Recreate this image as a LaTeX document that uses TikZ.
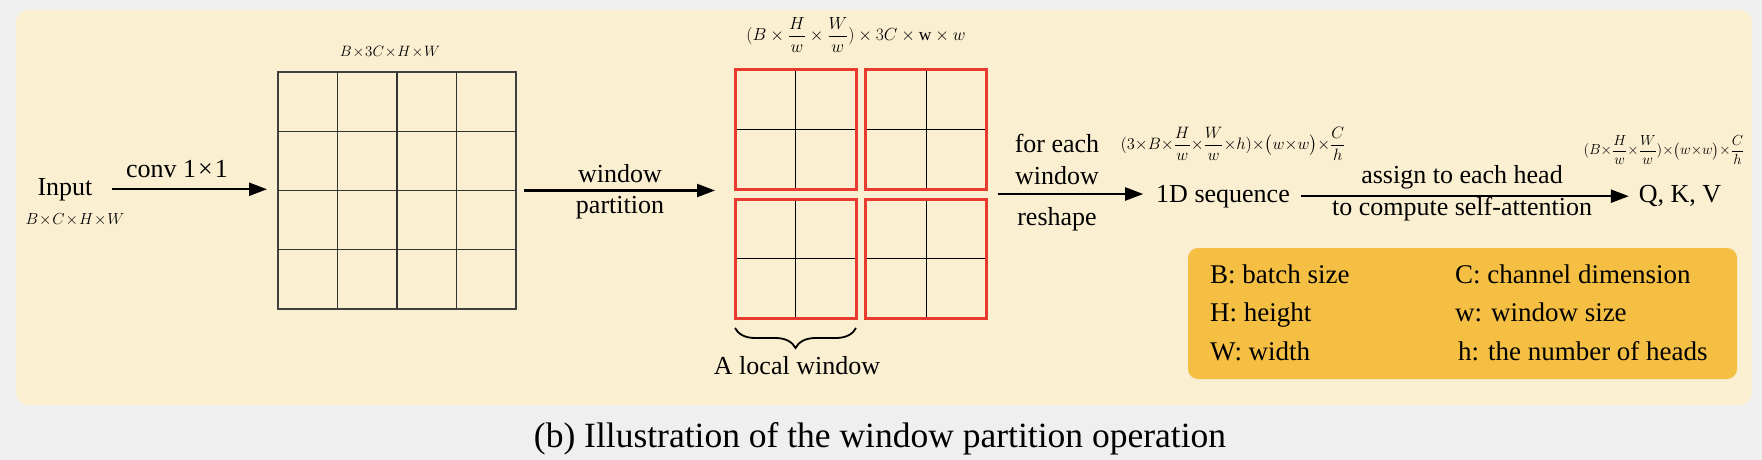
\RequirePackage{fix-cm}
\documentclass[tikz,border=0pt]{standalone}
\usepackage{amsmath}
\usepackage{fontspec}
\setmainfont{Liberation Serif}
\usetikzlibrary{arrows.meta,calc,decorations.pathreplacing}
\definecolor{bggray}{HTML}{EFEFEF}
\definecolor{cream}{HTML}{FBEFD1}
\definecolor{legendc}{HTML}{F4BF42}
\definecolor{winred}{HTML}{E63B2E}
\begin{document}
\begin{tikzpicture}[x=1pt,y=-1pt,
  lbl/.style={inner sep=0pt, outer sep=0pt, anchor=base, font=\fontsize{26}{32}\selectfont},
  leg/.style={inner sep=0pt, outer sep=0pt, anchor=base west, font=\fontsize{27}{32}\selectfont},
  mth/.style={inner sep=0pt, outer sep=0pt},
  arr/.style={line width=2.2pt, -{Triangle[length=18pt,width=13pt]}},
  gridbox/.style={draw=black!75, line width=1.2pt, inner sep=0pt, outer sep=0pt, minimum width=238pt, minimum height=237pt},
  gline/.style={draw=black!80, line width=1.2pt},
  winbox/.style={draw=winred, line width=3pt, inner sep=0pt, outer sep=0pt, minimum width=121pt, minimum height=119pt},
  wline/.style={draw=black, line width=1pt, shorten <=1.5pt, shorten >=1.5pt},
  bracestyle/.style={draw=black, line width=1.8pt, decorate, decoration={brace, amplitude=20pt}}
]
\useasboundingbox (0,0) rectangle (1762,460);
\fill[bggray] (0,0) rectangle (1762,460);
\fill[cream, rounded corners=12pt] (16,10) rectangle (1752,405);

% input
\node[lbl] (input) at (65,195) {Input};
\node[mth] (f0) at (75,220) {\fontsize{16}{18}\selectfont\medmuskip=1mu $B\times C\times H\times W$};
\node[lbl] (conv) at (177,177) {conv 1\kern2pt×\kern2pt1};

% big grid
\node[gridbox] (grid) at (397,190.5) {};
\foreach \i in {1,2,3} {
  \draw[gline] ($(grid.north west)!\i/4!(grid.north east)$) -- ($(grid.south west)!\i/4!(grid.south east)$);
  \draw[gline] ($(grid.north west)!\i/4!(grid.south west)$) -- ($(grid.north east)!\i/4!(grid.south east)$);
}
\node[mth] (f1) at (390,52) {\fontsize{15}{17}\selectfont\medmuskip=1mu $B\times 3C\times H\times W$};

% window partition arrow labels
\node[lbl] (wp1) at (620,182) {window};
\node[lbl] (wp2) at (620,213) {partition};

% windows
\node[winbox] (w1) at (795.5,129.5) {};
\node[winbox] (w2) at (926,129.5) {};
\node[winbox] (w3) at (795.5,258.5) {};
\node[winbox] (w4) at (926,258.5) {};
\foreach \w in {w1,w2,w3,w4} {
  \draw[wline] (\w.north) -- (\w.south);
  \draw[wline] (\w.west) -- (\w.east);
}
\node[mth] (f2) at (856,35) {\fontsize{17.5}{20}\selectfont $(B\times\dfrac{H}{w}\times\dfrac{W}{w})\times 3C\times \mathrm{w}\times w$};
\draw[bracestyle] ([yshift=-10pt]w3.south east) -- ([yshift=-10pt]w3.south west);
\node[lbl] (lw) at (797,374) {A local window};

% reshape
\node[lbl] (fe1) at (1057,152) {for each};
\node[lbl] (fe2) at (1057,184) {window};
\node[lbl] (fe3) at (1057,225) {reshape};
\node[lbl] (seq) at (1223,202) {1D sequence};
\node[mth] (f3) at (1233,144) {\fontsize{16.5}{19}\selectfont\medmuskip=0mu $(3\times B\times\dfrac{H}{w}\times\dfrac{W}{w}\times h)\times\bigl(w\times w\bigr)\times\dfrac{C}{h}$};

% heads
\node[lbl] (as1) at (1462,183) {assign to each head};
\node[lbl] (as2) at (1462,215) {to compute self-attention};
\node[lbl] (qkv) at (1680,202) {Q, K, V};
\node[mth] (f4) at (1664,150) {\fontsize{14.6}{17}\selectfont\medmuskip=0mu $(B\times\dfrac{H}{w}\times\dfrac{W}{w})\times\bigl(w\times w\bigr)\times\dfrac{C}{h}$};

% arrows
\draw[arr, shorten <=20pt, shorten >=11pt] (input.east) -- (input.east -| grid.west);
\draw[arr, shorten <=8pt, shorten >=20pt] (grid.east) -- (grid.east -| w1.west);
\coordinate (wr) at ($(w2.south east)!0.5!(w4.north east)$);
\draw[arr, shorten <=11pt, shorten >=13pt] (wr) -- (wr -| seq.west);
\draw[arr, shorten <=11pt, shorten >=10pt] (seq.east) -- (seq.east -| qkv.west);

% legend
\node[fill=legendc, rounded corners=10pt, inner sep=0pt, minimum width=549pt, minimum height=131pt] (legend) at (1462.5,313.5) {};
\node[leg] (lb) at (1210,283) {B: batch size};
\node[leg] (lh) at (1210,321) {H: height};
\node[leg] (lW) at (1210,360) {W: width};
\node[leg] (lc) at (1455,283) {C: channel dimension};
\node[leg] (lws) at (1455,321) {w: window size};
\node[leg] (lhh) at (1458,360) {h: the number of heads};

% caption
\node[inner sep=0pt, anchor=base, font=\fontsize{35.5}{40}\selectfont] (cap) at (880,447) {(b) Illustration of the window partition operation};
\end{tikzpicture}
\end{document}
